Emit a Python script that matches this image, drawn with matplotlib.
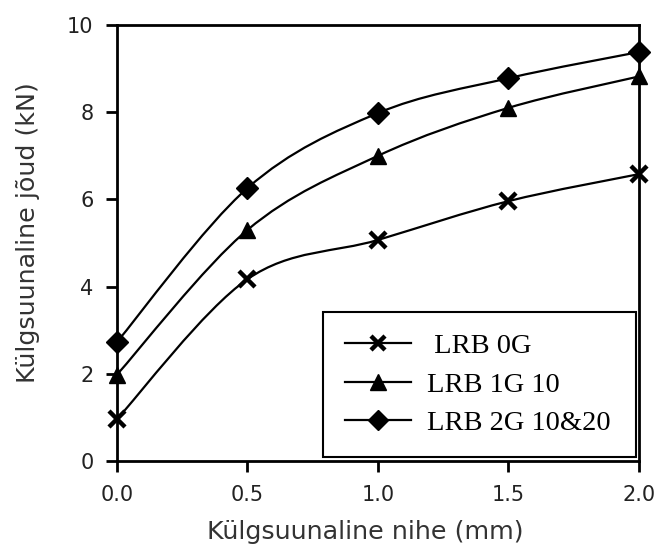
import matplotlib
matplotlib.use("Agg")
import matplotlib.pyplot as plt
import numpy as np
from matplotlib.path import Path
from matplotlib.patches import PathPatch
from matplotlib.lines import Line2D

# lateral displacement (mm) and lateral force (kN) per bearing type
displacement = [0.0, 0.5, 1.0, 1.5, 2.0]
force_0g = [0.96, 4.17, 5.07, 5.96, 6.58]
force_1g = [1.98, 5.30, 7.00, 8.10, 8.82]
force_2g = [2.73, 6.26, 7.98, 8.78, 9.38]

labels = [" LRB 0G", "LRB 1G 10", "LRB 2G 10&20"]
markers = ["x", "^", "D"]
xticks = [0.0, 0.5, 1.0, 1.5, 2.0]
yticks = [0, 2, 4, 6, 8, 10]

plt.rcParams["font.family"] = "DejaVu Sans"
plt.rcParams["xtick.labelsize"] = 15
plt.rcParams["ytick.labelsize"] = 15


def smooth_path(x, y, tension=1 / 6):
    """Catmull-Rom style cubic Bezier path through the points."""
    pts = np.column_stack([x, y])
    verts = [pts[0]]
    codes = [Path.MOVETO]
    n = len(pts)
    for i in range(n - 1):
        p0 = pts[max(i - 1, 0)]
        p1 = pts[i]
        p2 = pts[i + 1]
        p3 = pts[min(i + 2, n - 1)]
        c1 = p1 + (p2 - p0) * tension
        c2 = p2 - (p3 - p1) * tension
        verts += [c1, c2, p2]
        codes += [Path.CURVE4] * 3
    return Path(verts, codes)


fig = plt.figure(figsize=(6.58, 5.52), dpi=100)
ax = fig.add_axes([0.1778, 0.1649, 0.7933, 0.7898])

sizes = {"x": 11, "^": 12, "D": 11}
series = [force_0g, force_1g, force_2g]
handles = []
for vals, mk, lab in zip(series, markers, labels):
    ax.add_patch(PathPatch(smooth_path(displacement, vals), fill=False,
                           edgecolor="black", lw=1.6, zorder=2))
    mew = 3.2 if mk == "x" else 1
    ax.plot(displacement, vals, ls="none", marker=mk, ms=sizes[mk], mew=mew,
            color="black", zorder=3, clip_on=False)
    handles.append(Line2D([], [], color="black", lw=1.6, marker=mk,
                          ms=sizes[mk] - 1, mew=mew))

ax.set_xlim(0, 2)
ax.set_ylim(0, 10)
ax.set_xticks(xticks)
ax.set_xticklabels([f"{t:.1f}" for t in xticks])
ax.set_yticks(yticks)
for s in ax.spines.values():
    s.set_linewidth(2)
ax.tick_params(direction="out", length=8, width=2, pad=9,
               color="black", labelcolor="#222222")

ax.set_xlabel("Külgsuunaline nihe (mm)", fontsize=18.3, color="#333333")
ax.set_ylabel("Külgsuunaline jõud (kN)", fontsize=18.3, color="#333333")
ax.xaxis.set_label_coords(0.475, -0.135)
ax.yaxis.set_label_coords(-0.147, 0.523)

leg = ax.legend(handles, labels, loc="lower left",
                bbox_to_anchor=(0.395, 0.009, 0.599, 0.326), mode="expand",
                prop={"family": "Liberation Serif", "size": 20.5},
                frameon=True, fancybox=False, handlelength=2.35,
                handletextpad=0.56, labelspacing=0.43, borderpad=0.75,
                borderaxespad=0)
leg.get_frame().set_edgecolor("black")
leg.get_frame().set_linewidth(1.5)
leg.get_frame().set_alpha(1)

fig.savefig("out.png", dpi=100)
